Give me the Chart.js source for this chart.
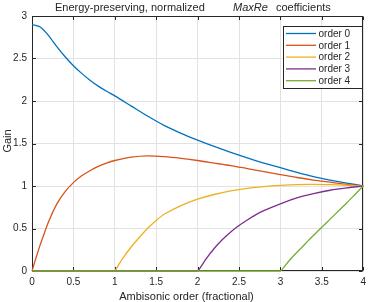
<!DOCTYPE html>
<html>
<head>
<meta charset="utf-8">
<script src="https://cdn.jsdelivr.net/npm/chart.js@4"></script>
<style>
  body { margin: 0; background: #fff; }
  #wrap { width: 371px; height: 302px; position: relative; }
</style>
</head>
<body>
<div id="wrap"><canvas id="gainChart"></canvas></div>
<script>
// values
const seriesNames = ['order 0', 'order 1', 'order 2', 'order 3', 'order 4'];
const seriesColors = ['#0072BD', '#D95319', '#EDB120', '#7E2F8E', '#77AC30'];

const order0X = [0, 0.1, 0.2, 0.3, 0.4, 0.5, 0.6, 0.7, 0.8, 0.9, 1.0, 1.2, 1.4, 1.6, 1.8, 2.0, 2.2, 2.4, 2.6, 2.8, 3.0, 3.2, 3.4, 3.6, 3.8, 4.0];
const order0Y = [2.90, 2.87, 2.77, 2.64, 2.52, 2.415, 2.325, 2.245, 2.175, 2.115, 2.06, 1.94, 1.82, 1.71, 1.62, 1.54, 1.465, 1.395, 1.33, 1.27, 1.215, 1.16, 1.11, 1.07, 1.035, 1.0];

const order1X = [0, 0.05, 0.1, 0.2, 0.3, 0.4, 0.5, 0.6, 0.7, 0.8, 0.9, 1.0, 1.2, 1.4, 1.6, 1.8, 2.0, 2.2, 2.4, 2.6, 2.8, 3.0, 3.2, 3.4, 3.6, 3.8, 4.0];
const order1Y = [0, 0.16, 0.31, 0.58, 0.79, 0.935, 1.04, 1.12, 1.18, 1.23, 1.27, 1.30, 1.34, 1.355, 1.345, 1.325, 1.30, 1.27, 1.24, 1.205, 1.17, 1.135, 1.10, 1.07, 1.045, 1.02, 1.0];

const order2X = [0, 0.95, 1.0, 1.05, 1.1, 1.2, 1.3, 1.4, 1.5, 1.6, 1.8, 2.0, 2.2, 2.4, 2.6, 2.8, 3.0, 3.2, 3.4, 3.6, 3.8, 4.0];
const order2Y = [0, 0, 0, 0.08, 0.155, 0.285, 0.40, 0.505, 0.595, 0.67, 0.77, 0.845, 0.90, 0.942, 0.972, 0.993, 1.007, 1.016, 1.018, 1.015, 1.009, 1.0];

const order3X = [0, 1.95, 2.0, 2.1, 2.2, 2.3, 2.4, 2.5, 2.6, 2.7, 2.8, 3.0, 3.2, 3.4, 3.6, 3.8, 4.0];
const order3Y = [0, 0, 0, 0.14, 0.265, 0.37, 0.46, 0.535, 0.60, 0.66, 0.71, 0.79, 0.86, 0.91, 0.95, 0.978, 1.0];

const order4X = [0, 2.95, 3.0, 3.1, 3.2, 3.3, 3.4, 3.5, 3.6, 3.7, 3.8, 3.9, 4.0];
const order4Y = [0, 0, 0, 0.115, 0.22, 0.32, 0.42, 0.515, 0.61, 0.705, 0.80, 0.90, 1.0];

const allX = [order0X, order1X, order2X, order3X, order4X];
const allY = [order0Y, order1Y, order2Y, order3Y, order4Y];

const FONT = '"Liberation Sans", Arial, Helvetica, sans-serif';
const TXT = '#262626';

// MATLAB-ish decorations: box, inward ticks, title, labels, legend
const matlabDecor = {
  id: 'matlabDecor',
  beforeDatasetsDraw(chart) {
    const { ctx, chartArea: a, scales: { x, y } } = chart;
    ctx.save();
    ctx.strokeStyle = TXT;
    ctx.lineWidth = 1;
    const L = Math.round(a.left) + 0.5, R = Math.round(a.right) - 0.5;
    const T = Math.round(a.top) + 0.5, B = Math.round(a.bottom) - 0.5;
    ctx.strokeRect(L, T, R - L, B - T);
    ctx.beginPath();
    x.ticks.forEach(t => {
      const px = Math.round(x.getPixelForValue(t.value)) + 0.5;
      ctx.moveTo(px, B); ctx.lineTo(px, B - 3.5);
      ctx.moveTo(px, T); ctx.lineTo(px, T + 3.5);
    });
    y.ticks.forEach(t => {
      const py = Math.round(y.getPixelForValue(t.value)) + 0.5;
      ctx.moveTo(L, py); ctx.lineTo(L + 3.5, py);
      ctx.moveTo(R, py); ctx.lineTo(R - 3.5, py);
    });
    ctx.stroke();
    ctx.restore();
  },
  afterDatasetsDraw(chart) {
    const { ctx } = chart;
    ctx.save();
    // legend
    const lx = 283, ly = 26, lw = 79, lh = 62;
    ctx.fillStyle = '#fff';
    ctx.fillRect(lx, ly, lw, lh);
    ctx.strokeStyle = TXT;
    ctx.lineWidth = 1;
    ctx.strokeRect(lx + 0.5, ly + 0.5, lw, lh);
    ctx.font = '10px ' + FONT;
    ctx.textBaseline = 'middle';
    ctx.textAlign = 'left';
    seriesNames.forEach((name, i) => {
      const ry = 33.5 + i * 11.8;
      ctx.strokeStyle = seriesColors[i];
      ctx.lineWidth = 1.3;
      ctx.beginPath();
      ctx.moveTo(286, ry); ctx.lineTo(316, ry);
      ctx.stroke();
      ctx.fillStyle = TXT;
      ctx.fillText(name, 318.5, ry + 0.5);
    });
    // title
    ctx.fillStyle = TXT;
    ctx.textBaseline = 'middle';
    ctx.font = '11px ' + FONT;
    ctx.fillText('Energy-preserving, normalized', 55, 7.5);
    ctx.font = 'italic 11px ' + FONT;
    ctx.fillText('MaxRe', 233, 7.5);
    ctx.font = '11px ' + FONT;
    ctx.fillText('coefficients', 276, 7.5);
    // axis labels
    ctx.textAlign = 'center';
    ctx.fillText('Ambisonic order (fractional)', 186.5, 296.5);
    ctx.translate(7.5, 141);
    ctx.rotate(-Math.PI / 2);
    ctx.fillText('Gain', 0, 0);
    ctx.restore();
  }
};

const datasets = seriesNames.map((name, i) => ({
  label: name,
  data: allX[i].map((xv, k) => ({ x: xv, y: allY[i][k] })),
  borderColor: seriesColors[i],
  backgroundColor: seriesColors[i],
  borderWidth: 1.3,
  pointRadius: 0,
  tension: 0.25,
  fill: false,
  clip: false,
  order: seriesNames.length - 1 - i
}));

new Chart(document.getElementById('gainChart'), {
  type: 'line',
  data: { datasets },
  options: {
    responsive: true,
    maintainAspectRatio: false,
    animation: false,
    events: [],
    layout: { padding: { left: 0, top: 16, right: 7, bottom: 0 } },
    plugins: { legend: { display: false }, title: { display: false }, tooltip: { enabled: false } },
    scales: {
      x: {
        type: 'linear',
        min: 0, max: 4,
        afterFit: s => { s.height = 31; },
        ticks: { stepSize: 0.5, padding: 5, color: TXT, font: { family: FONT, size: 10 }, maxRotation: 0,
                 callback: v => String(Math.round(v * 10) / 10) },
        grid: { color: '#e2e2e2', drawTicks: false },
        border: { display: false }
      },
      y: {
        min: 0, max: 3,
        afterFit: s => { s.width = 32; },
        ticks: { stepSize: 0.5, padding: 5, color: TXT, font: { family: FONT, size: 10 },
                 callback: v => String(Math.round(v * 10) / 10) },
        grid: { color: '#e2e2e2', drawTicks: false },
        border: { display: false }
      }
    }
  },
  plugins: [matlabDecor]
});
</script>
</body>
</html>
